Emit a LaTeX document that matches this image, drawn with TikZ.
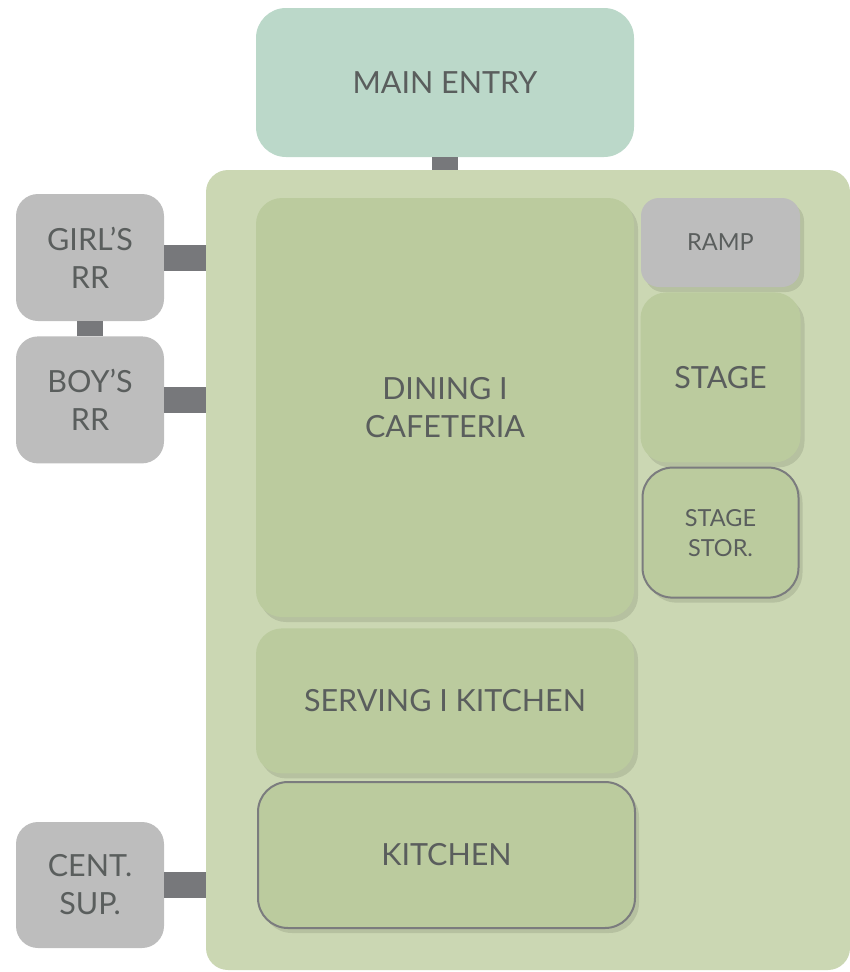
\documentclass[tikz,border=0pt]{standalone}
\usepackage{fontspec}
\setmainfont{Lato}
\usetikzlibrary{positioning, shadows}

\definecolor{entrygreen}{HTML}{BBD8C9}
\definecolor{hallgreen}{HTML}{CBD7B3}
\definecolor{roomgreen}{HTML}{BBCB9E}
\definecolor{roomgray}{HTML}{BDBDBD}
\definecolor{linkgray}{HTML}{77787B}
\definecolor{textgray}{HTML}{5A5E5D}
\definecolor{edgegray}{HTML}{7B7C7E}

\tikzset{
    room/.style={rectangle, rounded corners=26pt, fill=roomgreen, text=textgray,
        align=center, inner sep=0pt, font=\fontsize{30.5}{38}\selectfont},
    small room/.style={room, font=\fontsize{23.5}{30}\selectfont},
    gray room/.style={room, fill=roomgray, rounded corners=22pt},
    shaded/.style={drop shadow={shadow xshift=4pt, shadow yshift=-5pt, opacity=0.1, fill=black}},
    edged/.style={draw=edgegray, line width=2pt},
    link/.style={linkgray, line width=26pt},
}

\begin{document}
\begin{tikzpicture}[x=1pt, y=-1pt]
        \useasboundingbox (0,0) rectangle (850,972);

        \node[rectangle, rounded corners=22pt, fill=hallgreen, minimum width=644pt, minimum height=800pt] (hall) at (528,570) {};
        \node[room, fill=entrygreen, rounded corners=30pt, minimum width=378pt, minimum height=149pt] (entry) at (445,82.5) {MAIN ENTRY};

        \node[room, shaded, minimum width=378pt, minimum height=419pt] (dining) at (445,407.5) {DINING I\\CAFETERIA};
        \node[room, shaded, below=11pt of dining, minimum width=378pt, minimum height=145pt] (serving) {SERVING I KITCHEN};
        \node[room, shaded, edged, rounded corners=30pt, minimum width=377pt, minimum height=146pt] (kitchen) at (446.5,855) {KITCHEN};

        \node[small room, shaded, fill=roomgray, rounded corners=18pt, minimum width=159pt, minimum height=89pt] (ramp) at (720.5,242.5) {RAMP};
        \node[room, shaded, below=5pt of ramp, minimum width=160pt, minimum height=170pt] (stage) {STAGE};
        \node[small room, shaded, edged, rounded corners=30pt, below=4pt of stage, minimum width=156pt, minimum height=130pt] (stor) {STAGE\\STOR.};

        \node[gray room, minimum width=148pt, minimum height=127pt] (girl) at (90,257.5) {GIRL'S\\RR};
        \node[gray room, below=15pt of girl, minimum width=148pt, minimum height=127pt] (boy) {BOY'S\\RR};
        \node[gray room, minimum width=148pt, minimum height=126pt] (cent) at (90,885) {CENT.\\SUP.};

        \draw[link] (entry.south) -- (entry.south |- hall.north);
        \draw[link] (girl.south) -- (boy.north);
        \draw[link] (girl.east) -- (girl.east -| hall.west);
        \draw[link] (boy.east) -- (boy.east -| hall.west);
        \draw[link] (cent.east) -- (cent.east -| hall.west);
    \end{tikzpicture}
\end{document}
